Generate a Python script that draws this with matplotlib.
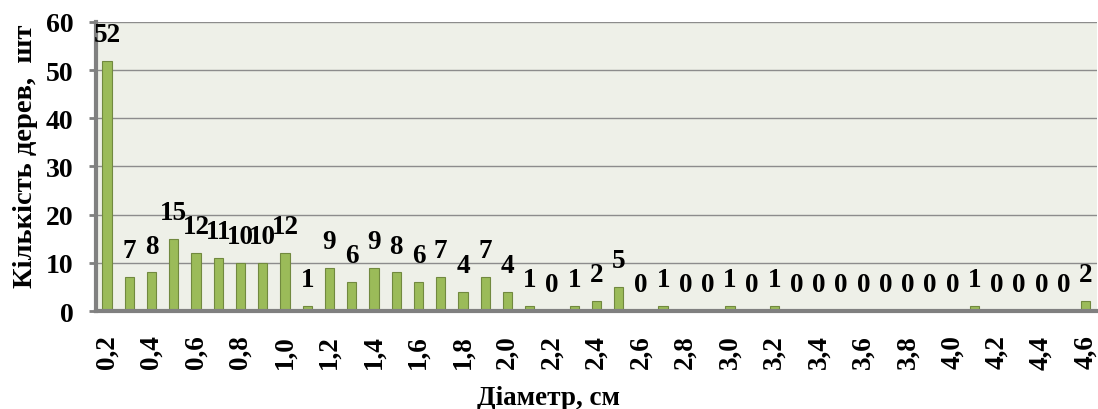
import numpy as np
import matplotlib
matplotlib.use('Agg')
import matplotlib.pyplot as plt

# diameter classes, cm (step 0.1) and tree counts per class
diameters = ["0,2", "0,3", "0,4", "0,5", "0,6", "0,7", "0,8", "0,9", "1,0", "1,1",
             "1,2", "1,3", "1,4", "1,5", "1,6", "1,7", "1,8", "1,9", "2,0", "2,1",
             "2,2", "2,3", "2,4", "2,5", "2,6", "2,7", "2,8", "2,9", "3,0", "3,1",
             "3,2", "3,3", "3,4", "3,5", "3,6", "3,7", "3,8", "3,9", "4,0", "4,1",
             "4,2", "4,3", "4,4", "4,5", "4,6"]
counts = [52, 7, 8, 15, 12, 11, 10, 10, 12, 1,
          9, 6, 9, 8, 6, 7, 4, 7, 4, 1,
          0, 1, 2, 5, 0, 1, 0, 0, 1, 0,
          1, 0, 0, 0, 0, 0, 0, 0, 0, 1,
          0, 0, 0, 0, 2]

plt.rcParams['font.family'] = ['Liberation Serif', 'DejaVu Serif']
plt.rcParams['font.weight'] = 'bold'

fig = plt.figure(figsize=(10.98, 4.10), dpi=100)
ax = fig.add_axes([0.0874, 0.239, 0.9116, 0.705])
ax.set_facecolor('#eef0e8')

x = np.arange(len(counts))
ax.bar(x, counts, width=0.42, color='#9bbb59', edgecolor='#71893f', linewidth=0.8, zorder=3)

for xi, v in zip(x, counts):
    ax.annotate(str(v), (xi, v), xytext=(0, 10), textcoords='offset points',
                ha='center', va='bottom', fontsize=19.5, fontweight='bold', zorder=4)

ax.set_xlim(-0.5, len(counts) - 0.5)
ax.set_ylim(0, 60)
ax.set_yticks(range(0, 61, 10))
ax.yaxis.grid(True, color='#8c8c8c', linewidth=1.0, zorder=0)
ax.tick_params(axis='y', labelsize=20, length=5, width=2, color='#808080', pad=11)

ax.set_xticks(x[::2])
ax.set_xticklabels(diameters[::2], rotation=90, fontsize=19.5, fontweight='bold')
ax.tick_params(axis='x', length=0, pad=17)

for side in ['top', 'right']:
    ax.spines[side].set_visible(False)
for side in ['left', 'bottom']:
    ax.spines[side].set_color('#808080')
    ax.spines[side].set_linewidth(3)
ax.spines['bottom'].set_zorder(5)

ax.set_ylabel("Кількість дерев,  шт", fontsize=20.5, fontweight='bold')
ax.yaxis.set_label_coords(-0.058, 0.54)
ax.set_xlabel("Діаметр, см", fontsize=19.5, fontweight='bold')
ax.xaxis.set_label_coords(0.452, -0.255)

fig.savefig("out.png", dpi=100)
